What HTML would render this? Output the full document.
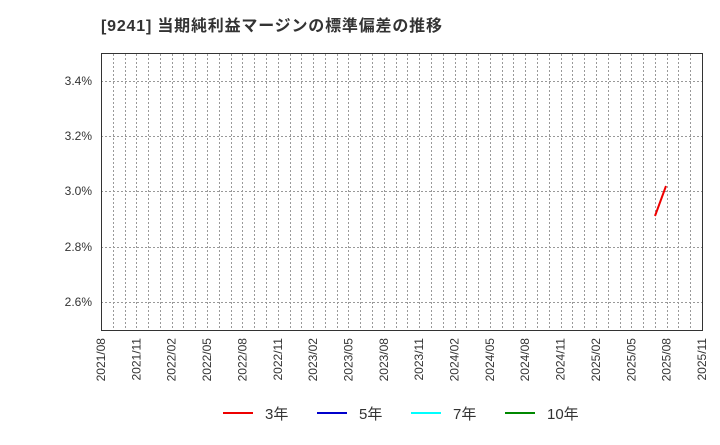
<!DOCTYPE html>
<html><head><meta charset="utf-8"><style>
body{margin:0;background:#fff;}
svg text{font-family:"Liberation Sans","Noto Sans CJK JP",sans-serif;}
</style></head><body>
<svg width="720" height="440" xmlns="http://www.w3.org/2000/svg">
<text x="101" y="31" font-size="16" font-weight="bold" fill="#333" textLength="341">[9241]  当期純利益マージンの標準偏差の推移</text>
<g stroke="#999" stroke-width="1" stroke-dasharray="2,2">
<line x1="101" x2="702" y1="81.5" y2="81.5"/>
<line x1="101" x2="702" y1="136.5" y2="136.5"/>
<line x1="101" x2="702" y1="191.5" y2="191.5"/>
<line x1="101" x2="702" y1="247.5" y2="247.5"/>
<line x1="101" x2="702" y1="302.5" y2="302.5"/>
</g>
<g stroke="#999" stroke-width="1" stroke-dasharray="2,2" id="vg"></g>
<rect x="101.5" y="53.5" width="601" height="277" fill="none" stroke="#333" stroke-width="1"/>
<g font-size="12" fill="#333" text-anchor="end">
<text x="92" y="85">3.4%</text>
<text x="92" y="140">3.2%</text>
<text x="92" y="195">3.0%</text>
<text x="92" y="251">2.8%</text>
<text x="92" y="306">2.6%</text>
</g>
<g id="xl" font-size="12" fill="#333"></g>
<polyline points="655,216 666,186" fill="none" stroke="#e00" stroke-width="2"/>
<g font-size="15" fill="#333">
<line x1="223" x2="253" y1="413" y2="413" stroke="#e00" stroke-width="2"/><text x="265" y="419">3年</text>
<line x1="317" x2="347" y1="413" y2="413" stroke="#00c" stroke-width="2"/><text x="359" y="419">5年</text>
<line x1="411" x2="441" y1="413" y2="413" stroke="#0ff" stroke-width="2"/><text x="453" y="419">7年</text>
<line x1="505" x2="535" y1="413" y2="413" stroke="#080" stroke-width="2"/><text x="547" y="419">10年</text>
</g>
</svg>
<script>
var ns="http://www.w3.org/2000/svg",vg=document.getElementById('vg'),xl=document.getElementById('xl');
var W=601/51;
for(var i=1;i<51;i++){var x=Math.round(101+i*W)+0.5;var l=document.createElementNS(ns,'line');l.setAttribute('x1',x);l.setAttribute('x2',x);l.setAttribute('y1',54);l.setAttribute('y2',330);vg.appendChild(l);}
var labs=["2021/08","2021/11","2022/02","2022/05","2022/08","2022/11","2023/02","2023/05","2023/08","2023/11","2024/02","2024/05","2024/08","2024/11","2025/02","2025/05","2025/08","2025/11"];
for(var j=0;j<18;j++){var x=101+j*3*W+4;var t=document.createElementNS(ns,'text');t.setAttribute('transform','translate('+x+',338) rotate(-90)');t.setAttribute('text-anchor','end');t.textContent=labs[j];xl.appendChild(t);}
</script>
</body></html>
